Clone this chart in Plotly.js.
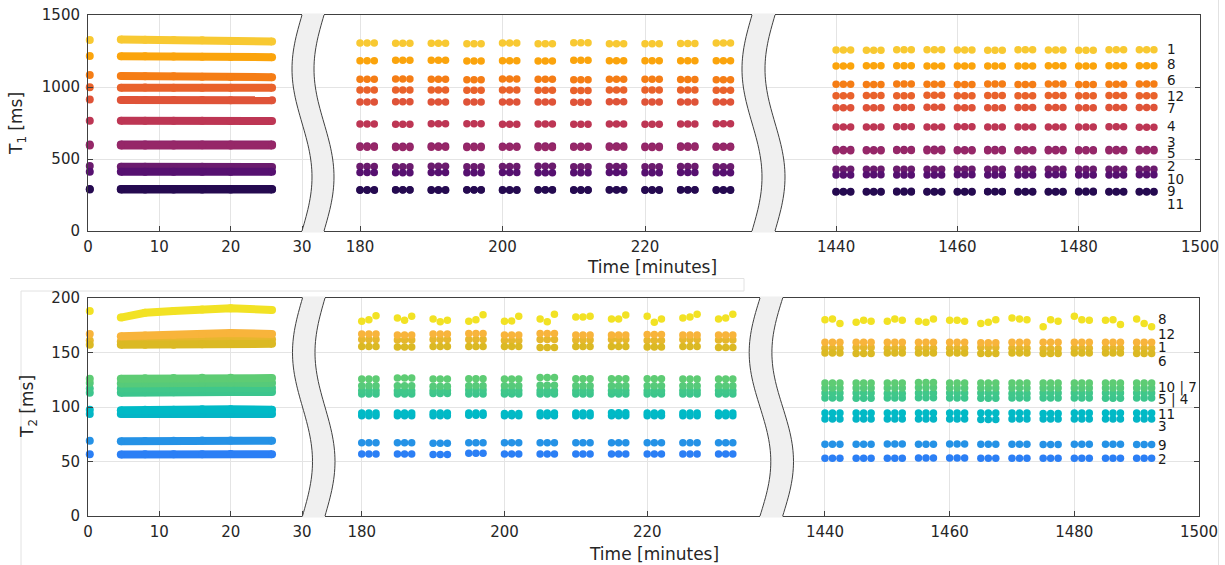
<!DOCTYPE html>
<html><head><meta charset="utf-8">
<script src="https://cdn.plot.ly/plotly-3.0.1.min.js"></script>
<style>html,body{margin:0;padding:0;background:#fff;}#chart{width:1225px;height:565px;}</style>
</head><body><div id="chart"></div>
<script>
// ================= DATA =================
const seriesIds = ['1','2','3','4','5','6','7','8','9','10','11','12'];
const startTime = 0.25;
const denseTimes = [4.6, 8, 12, 16, 20, 25.8];
const clusterStartsP2 = [180,185,190,195,200,205,210,215,220,225,230];
const clusterStartsP3 = [1440,1445,1450,1455,1460,1465,1470,1475,1480,1485,1490];
const withinClusterP2 = [0, 1, 2];
const withinClusterP3 = [0, 1.2, 2.4];

// ---- T1 [ms] ----
const t1Start = [1326, 451, 600, 766, 594, 1083, 914, 1215, 292, 412, 288, 998];
const t1Dense = [
  [1330,1328,1326,1324,1320,1316],
  [446,446,445,446,445,445],
  [600,600,601,600,600,600],
  [766,766,765,765,764,764],
  [594,594,594,595,594,594],
  [1076,1075,1074,1072,1070,1068],
  [910,910,909,909,908,908],
  [1214,1213,1212,1210,1208,1207],
  [292,292,292,292,292,292],
  [412,412,411,412,411,412],
  [288,288,288,288,288,288],
  [995,996,995,995,994,995]
];
const t1P2 = [
  [1305,1303,1303,1300,1305,1300,1307,1300,1300,1302,1305],
  [448,447,449,447,448,449,447,448,447,448,447],
  [590,588,590,588,589,590,588,590,589,590,589],
  [743,742,744,745,742,743,742,743,742,743,744],
  [581,580,582,580,581,580,582,581,580,581,582],
  [1053,1055,1053,1050,1055,1053,1050,1053,1053,1052,1050],
  [896,897,895,896,896,895,894,897,896,895,896],
  [1183,1185,1185,1180,1183,1180,1185,1183,1182,1183,1183],
  [287,286,287,286,287,286,287,286,287,286,287],
  [406,405,407,404,406,405,404,406,405,406,405],
  [283,284,283,284,283,284,283,284,283,284,283],
  [979,979,980,977,979,977,975,980,979,979,977]
];
const t1P3 = [
  [1257,1255,1258,1258,1257,1255,1258,1257,1255,1258,1258],
  [428,428,429,428,428,429,428,428,429,428,428],
  [566,565,566,567,565,566,565,566,565,566,566],
  [722,722,724,723,724,722,723,722,722,724,721],
  [558,558,559,557,558,558,557,558,558,557,558],
  [1019,1018,1020,1019,1018,1020,1018,1020,1018,1019,1020],
  [856,856,857,860,856,856,857,858,856,857,857],
  [1146,1147,1148,1146,1146,1146,1146,1147,1146,1147,1147],
  [275,275,276,275,275,274,275,275,276,275,275],
  [389,390,389,389,390,389,389,390,389,389,390],
  [271,271,270,271,271,272,271,271,270,271,271],
  [940,941,940,942,940,941,940,941,940,941,940]
];

// ---- T2 [ms] ----
const t2Start = [161, 56.7, 93.5, 113, 117, 157, 122, 188, 69, 126, 97.5, 167];
const t2Dense = [
  [160,160.5,161,161.5,162,162],
  [56.5,56.7,56.7,56.7,56.8,56.7],
  [93.5,93.5,94,94,94,93.5],
  [113,113.5,113.5,113.7,113.7,113.7],
  [117,117.3,117.4,117.5,117.5,117.4],
  [157,157,157,157.5,158,158],
  [121.5,122,122,122.3,122.3,122],
  [182,186.5,188,189.5,190.5,189],
  [68.5,68.8,69,69.2,69.3,69],
  [126,126.3,126.5,126.8,126.8,126.5],
  [97,97.5,97.5,98,98,97.5],
  [165,165.5,166,167,168,167]
];
const t2P2 = [
  [162,161.5,162,162,161,162,161.5,162,161,162,161.5],
  [56.9,56.9,56.5,57.5,56.9,56.9,56.9,56.9,56.9,56.9,56.9],
  [92,92,92,92.5,92,92,92,92,92,92,92],
  [112,112,112.5,112,112,112,112,112,112,112,112],
  [115.2,115,115.2,115.5,115.2,115,115.2,115.2,115,115.2,115.2],
  [155.6,155,155.6,155.6,155.6,154.5,155.6,155.6,155,155.6,154.5],
  [119.5,119.5,119,119.5,119.5,120,119.5,119.5,119.5,119.5,119.5],
  [178.6,180.1,183.8, 181.7,179.5,183.2, 180.8,178.3,179.5, 178.6,180.1,184.7, 178.6,178.9,183.2, 180.8,178.3,185, 182.6,182.6,183.2, 180.8,180.8,184.4, 183.2,177.7,180.8, 181.7,182.6,185, 180.8,181.7,185],
  [67.3,67.3,66.8,67.3,67.3,67.3,67.3,67.3,67.3,67.3,67.3],
  [125.6,126.5,125.6,126,125.6,127,126,126,126,125.6,125.6],
  [94.4,94.4,94.4,94.4,94,94.4,94.4,94.8,94.4,94.4,94.4],
  [167,166,167,167.5,166,167.5,166,166,166.5,166,166]
];
const t2P3 = [
  [154,154.5,154,154,154,154.5,154,153.5,154,154,154],
  [53,53,53,53.2,53.2,53,53,53,53,53,53],
  [88.9,88.9,89,88.9,88.9,88.5,88.9,88.9,89,88.9,88.9],
  [108.2,108,108.2,108.5,108.2,108,108.2,108.2,108.2,108,108.2],
  [112.8,112.8,112.5,112.8,112.8,112.8,112.5,112.8,112.8,112.8,112.8],
  [149.5,149,149.5,149.5,149.5,149,149.5,149,149.5,149.5,149],
  [117.4,117.4,117.4,117.8,117.4,117.4,117.4,117.4,117.4,117.4,117.4],
  [180.1,180.8,176.5, 177.8,179.5,178.6, 178.6,180.8,179.5, 178.6,177.7,180.8, 179.5,179.5,178.6, 176.5,177.7,180.1, 181.7,180.8,180.1, 173.7,180.1,178.6, 183.2,180.1,179.5, 179.5,180.1,175.6, 180.8,176.5,173.7],
  [65.9,65.9,66,65.9,66,65.9,65.9,65.7,65.9,65.9,65.7],
  [122,122,122,122.5,122,122,122,122,122,122,122],
  [94.4,94.4,94.4,94.4,94.4,94.4,94.4,94,94.4,94.4,94.4],
  [159.3,159.3,159.5,159.3,159.3,159,159.3,159.3,159.5,159.3,159.3]
];

const t1Ticks = [0,500,1000,1500];
const t2Ticks = [0,50,100,150,200];
const xTicksP1 = [0,10,20,30];
const xTicksP2 = [180,200,220];
const xTicksP3 = [1440,1460,1480,1500];
const t1LabelTexts = ['1','8','6','12','7','4','3','5','2','10','9','11'];
const t2LabelTexts = ['8','12','1','6','10 | 7','5 | 4','11','3','9','2'];

// ================= STYLE / GEOMETRY =================
const t1Colors = ['#f8c932','#6b1b6e','#8c2369','#bd3654','#962768','#f57d15','#df5338','#fba40c','#2b0b57','#561070','#250a50','#e9622b'];
const t2Colors = ['#e6b72d','#2b7ff5','#04b5c6','#3cc58d','#40c78a','#dbb923','#56ca7a','#f2e224','#2592e6','#5ecc74','#00bac6','#f8b43b'];
const W = 1225, H = 565;
const fx = px => px / W;
const fy = py => 1 - py / H;
const AX = '#404040', GRID = '#e4e4e4', TXT = '#262626';
const FONT = 'DejaVu Sans, Verdana, sans-serif';
const TF = {family: FONT, size: 15, color: TXT};

const traces = [];
function buildChart(start, dense, p2, p3, colors, axes, lineW, dotSize) {
  seriesIds.forEach((id, s) => {
    traces.push({
      type: 'scatter', mode: 'lines+markers', name: id, showlegend: false, hoverinfo: 'skip',
      x: [startTime, null].concat(denseTimes), y: [start[s], null].concat(dense[s]),
      xaxis: axes[0][0], yaxis: axes[0][1], cliponaxis: false, connectgaps: false,
      line: {color: colors[s], width: lineW}, marker: {color: colors[s], size: lineW, line: {width: 0}}
    });
    [[p2, clusterStartsP2, withinClusterP2, axes[1]], [p3, clusterStartsP3, withinClusterP3, axes[2]]].forEach(([vals, starts, offs, ax]) => {
      const xs = [], ys = [];
      const v = vals[s];
      starts.forEach((t, k) => offs.forEach((o, j) => {
        xs.push(t + o);
        ys.push(v.length === starts.length * offs.length ? v[k * offs.length + j] : v[k]);
      }));
      traces.push({
        type: 'scatter', mode: 'markers', name: id, showlegend: false, hoverinfo: 'skip',
        x: xs, y: ys, xaxis: ax[0], yaxis: ax[1], cliponaxis: false,
        marker: {color: colors[s], size: dotSize, line: {width: 0}}
      });
    });
  });
}
buildChart(t1Start, t1Dense, t1P2, t1P3, t1Colors, [['x','y'],['x2','y2'],['x3','y3']], 8, 7.5);
buildChart(t2Start, t2Dense, t2P2, t2P3, t2Colors, [['x4','y4'],['x5','y5'],['x6','y6']], 8, 7.5);

function xAxis(d0, d1, range, tickvals, anchor) {
  return {domain: [fx(d0), fx(d1)], range: range, tickvals: tickvals, ticktext: tickvals.map(String),
    anchor: anchor, showline: true, mirror: true, linecolor: AX, linewidth: 1,
    ticks: 'inside', ticklen: 5, tickwidth: 1, tickcolor: AX, showgrid: true, gridcolor: GRID, gridwidth: 1,
    zeroline: false, tickfont: TF, ticklabelstandoff: 2, fixedrange: true};
}
function yAxis(kind, top, bottom, range, tickvals, anchor) {
  const a = {domain: [fy(bottom), fy(top)], range: range, tickvals: tickvals, anchor: anchor,
    showgrid: true, gridcolor: GRID, gridwidth: 1, zeroline: false, tickfont: TF, fixedrange: true,
    linecolor: AX, linewidth: 1, tickcolor: AX, ticklen: 5, tickwidth: 1};
  if (kind === 'left') { a.showline = true; a.ticks = 'inside'; a.showticklabels = true; a.ticklabelstandoff = 4; }
  else if (kind === 'mid') { a.showline = false; a.ticks = ''; a.showticklabels = false; }
  else { a.side = 'right'; a.showline = true; a.ticks = 'inside'; a.showticklabels = false; }
  return a;
}
const TT = 15, TB = 231, BT = 298, BB = 516;

// wavy broken-axis bands
function wave(x0, A, top, bottom) {
  const pts = [];
  const N = 60;
  for (let i = 0; i <= N; i++) {
    const py = top + (bottom - top) * i / N;
    const px = x0 - A * Math.sin(2 * Math.PI * i / N);
    pts.push([px, py]);
  }
  return pts;
}
const P = p => fx(p[0]).toFixed(5) + ',' + fy(p[1]).toFixed(5);
function band(xL, xR, A, top, bottom) {
  const L = wave(xL, A, top, bottom), R = wave(xR, A, top, bottom);
  const ext = 1.5;
  const fillPts = [[xL, top - ext]].concat(L, [[xL, bottom + ext], [xR, bottom + ext]], R.slice().reverse(), [[xR, top - ext]]);
  const fill = {type: 'path', xref: 'paper', yref: 'paper', layer: 'above',
    path: 'M' + fillPts.map(P).join('L') + 'Z', fillcolor: '#f0f0f0', line: {width: 0}};
  const cL = {type: 'path', xref: 'paper', yref: 'paper', layer: 'above',
    path: 'M' + L.map(P).join('L'), fillcolor: 'rgba(0,0,0,0)', line: {color: AX, width: 1}};
  const cR = {type: 'path', xref: 'paper', yref: 'paper', layer: 'above',
    path: 'M' + R.map(P).join('L'), fillcolor: 'rgba(0,0,0,0)', line: {color: AX, width: 1}};
  return [fill, cL, cR];
}
function fline(x0, y0, x1, y1) {
  return {type: 'line', xref: 'paper', yref: 'paper', layer: 'below', x0: fx(x0), y0: fy(y0), x1: fx(x1), y1: fy(y1),
    line: {color: '#e2e2e2', width: 1}};
}
const shapes = [].concat(
  band(302, 324, 10, TT, TB), band(752, 775, 10, TT, TB),
  band(302.5, 325, 10, BT, BB), band(760, 782.7, 10.8, BT, BB),
  [fline(10, 278.5, 744, 278.5), fline(744, 278.5, 744, 291), fline(21, 291, 744, 291), fline(21, 291, 21, 565), fline(1218.5, 0, 1218.5, 565)]
);

const annotations = [];
function ann(text, px, py, opts) {
  annotations.push(Object.assign({text: text, xref: 'paper', yref: 'paper', x: fx(px), y: fy(py), showarrow: false,
    xanchor: 'center', yanchor: 'middle', font: {family: FONT, size: 17, color: TXT}}, opts || {}));
}
ann('Time [minutes]', 652, 267);
ann('Time [minutes]', 654, 554);
ann('T<sub>1</sub> [ms]', 18, 124, {textangle: -90});
ann('T<sub>2</sub> [ms]', 28, 407, {textangle: -90});
const LF = {family: FONT, size: 13.5, color: '#1a1a1a'};
const t1LabelY = [49, 64, 80, 95.7, 107.7, 125.7, 141.7, 153.3, 165.7, 179, 190.7, 204.3];
t1LabelTexts.forEach((t, i) => ann(t, 1165, t1LabelY[i], {xanchor: 'left', font: LF}));
const t2LabelY = [319.3, 334.3, 346.7, 361, 387.3, 399, 414, 425.7, 445, 459];
t2LabelTexts.forEach((t, i) => ann(t, 1156, t2LabelY[i], {xanchor: 'left', font: LF}));

const layout = {
  width: W, height: H, margin: {l: 0, r: 0, t: 0, b: 0}, paper_bgcolor: '#fff', plot_bgcolor: '#fff',
  showlegend: false, font: {family: FONT, color: TXT},
  xaxis:  xAxis(88, 312, [0, 31.4], xTicksP1, 'y'),
  xaxis2: xAxis(313, 763, [173.4, 236.56], xTicksP2, 'y2'),
  xaxis3: xAxis(763, 1200, [1427.95, 1500], xTicksP3, 'y3'),
  xaxis4: xAxis(88, 312, [0, 31.4], xTicksP1, 'y4'),
  xaxis5: xAxis(313, 771.5, [173.17, 237.42], xTicksP2, 'y5'),
  xaxis6: xAxis(771.5, 1199, [1431.42, 1500], xTicksP3, 'y6'),
  yaxis:  yAxis('left', TT, TB, [0, 1500], t1Ticks, 'x'),
  yaxis2: yAxis('mid', TT, TB, [0, 1500], t1Ticks, 'x2'),
  yaxis3: yAxis('right', TT, TB, [0, 1500], t1Ticks, 'x3'),
  yaxis4: yAxis('left', BT, BB, [0, 200], t2Ticks, 'x4'),
  yaxis5: yAxis('mid', BT, BB, [0, 200], t2Ticks, 'x5'),
  yaxis6: yAxis('right', BT, BB, [0, 200], t2Ticks, 'x6'),
  shapes: shapes, annotations: annotations
};
Plotly.newPlot('chart', traces, layout, {staticPlot: true, displayModeBar: false});
</script></body></html>
